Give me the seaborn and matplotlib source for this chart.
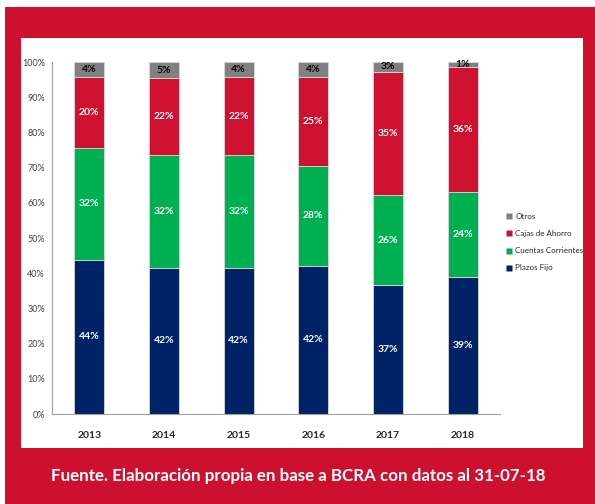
import pandas as pd
import seaborn as sns
import matplotlib.pyplot as plt
from matplotlib.patches import Rectangle
from matplotlib.lines import Line2D

# values (percent of total)
years = ["2013", "2014", "2015", "2016", "2017", "2018"]
plazos_fijo = [43.8, 41.6, 41.6, 42.1, 36.6, 39.0]
cuentas_corrientes = [31.9, 32.0, 31.9, 28.4, 25.6, 24.1]
cajas_ahorro = [20.1, 21.8, 22.2, 25.1, 35.0, 35.5]
otros = [4.2, 4.6, 4.3, 4.4, 2.8, 1.4]

series = ["Plazos Fijo", "Cuentas Corrientes", "Cajas de Ahorro", "Otros"]
colors = ["#002266", "#00B050", "#CE1130", "#808080"]
text_colors = ["white", "white", "white", "black"]

df = pd.DataFrame({"year": years,
                   "Plazos Fijo": plazos_fijo,
                   "Cuentas Corrientes": cuentas_corrientes,
                   "Cajas de Ahorro": cajas_ahorro,
                   "Otros": otros})

sns.set_style("white")
plt.rcParams["font.family"] = ["Lato", "DejaVu Sans"]

fig = plt.figure(figsize=(5.95, 5.04), dpi=100)
W, H = 595, 504

# red frame and white panel (behind the axes)
fig.patches.append(Rectangle((5 / W, 0), 590 / W, (504 - 7) / H, transform=fig.transFigure,
                             facecolor="#CD102D", edgecolor="none", zorder=-2))
fig.patches.append(Rectangle((21 / W, (504 - 448) / H), 562 / W, (448 - 38) / H,
                             transform=fig.transFigure, facecolor="white", edgecolor="none", zorder=-1))

ax = fig.add_axes([52 / W, (504 - 414) / H, (500 - 52) / W, (414 - 62) / H])
ax.set_facecolor("none")

bottom = [0.0] * len(years)
for name, col, tcol in zip(series, colors, text_colors):
    sns.barplot(data=df, x="year", y=name, order=years, color=col, saturation=1, width=0.4,
                errorbar=None, bottom=bottom, edgecolor="#d8d8d8", linewidth=0.6, ax=ax)
    cont = ax.containers[-1]
    ax.bar_label(cont, labels=[f"{v:.0f}%" for v in df[name]], label_type="center",
                 color=tcol, fontsize=7.5, fontweight="bold")
    bottom = [b + v for b, v in zip(bottom, df[name])]

ax.set_ylim(0, 100)
ax.set_xlim(-0.5, len(years) - 0.5)
ax.set_yticks(range(0, 101, 10))
ax.set_yticklabels([f"{t}%" for t in range(0, 101, 10)], fontsize=6.5, color="#404040")
ax.set_xticks(range(len(years)))
ax.set_xticklabels(years, fontsize=7.5, fontweight="bold")
ax.set_xticks([i + 0.5 for i in range(-1, len(years))], minor=True)
ax.tick_params(axis="x", which="major", length=0, pad=12)
ax.tick_params(axis="x", which="minor", length=4, width=0.8, color="#a0a0a0", direction="out")
ax.tick_params(axis="y", length=3, width=0.8, color="#a0a0a0", direction="out", pad=2)
ax.set_xlabel("")
ax.set_ylabel("")
for s in ["top", "right"]:
    ax.spines[s].set_visible(False)
for s in ["left", "bottom"]:
    ax.spines[s].set_color("#a0a0a0")
    ax.spines[s].set_linewidth(0.8)

handles = [Line2D([], [], marker="s", linestyle="none", markersize=3.8,
                  markerfacecolor=c, markeredgecolor="none") for c in colors[::-1]]
fig.legend(handles, series[::-1], loc="upper left", bbox_to_anchor=(502 / W, 1 - 210 / H),
           frameon=False, fontsize=5.8, labelspacing=1.25, handletextpad=0.25,
           handlelength=1.0, borderaxespad=0)

fig.text(298 / W, 1 - 476 / H, "Fuente. Elaboración propia en base a BCRA con datos al 31-07-18",
         ha="center", va="center", color="white", fontsize=12.2, fontweight="bold")

fig.savefig("out.png", dpi=100)
